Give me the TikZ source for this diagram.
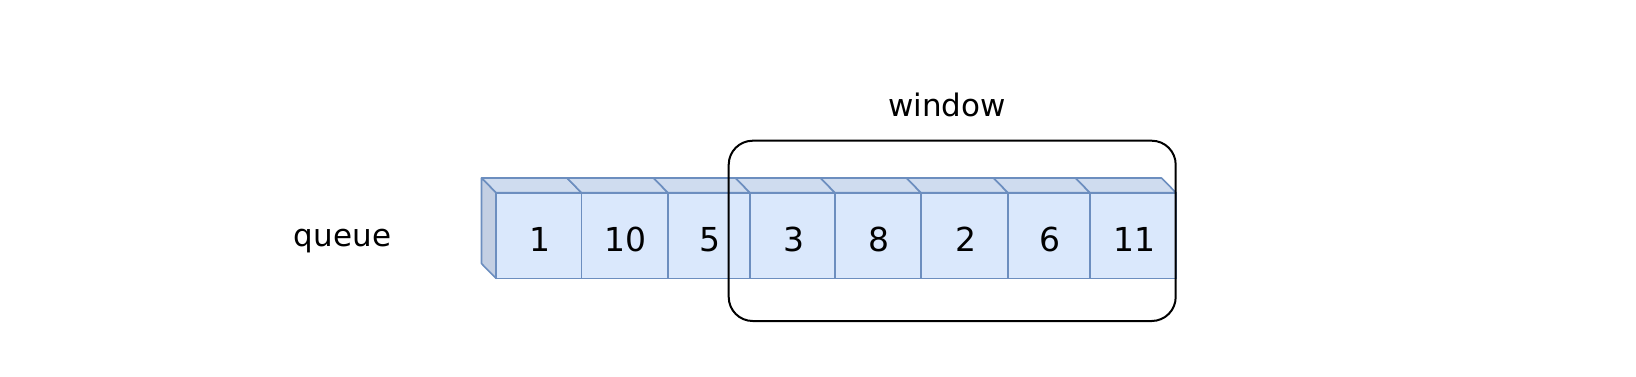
\documentclass[tikz,border=0pt]{standalone}
\usepackage{fontspec}
\setmainfont{DejaVu Sans}
\usetikzlibrary{calc}
\definecolor{cfront}{HTML}{DAE8FC}
\definecolor{ctop}{HTML}{CFDCEF}
\definecolor{cside}{HTML}{C3CFE3}
\definecolor{cedge}{HTML}{6C8EBF}
\tikzset{
  cell/.style={draw=cedge, fill=cfront, line width=1.6pt, inner sep=0pt, outer sep=0pt,
    minimum height=85.6pt, anchor=north west},
  topface/.style={draw=cedge, fill=ctop, line width=1.6pt, line join=round},
  sideface/.style={draw=cedge, fill=cside, line width=1.6pt, line join=round},
  num/.style={font=\fontsize{33}{40}\selectfont, inner sep=0pt, anchor=base},
  lbl/.style={font=\fontsize{31}{37}\selectfont, inner sep=0pt, anchor=base},
  winbox/.style={draw=black, line width=2pt, rounded corners=24pt, inner sep=0pt, outer sep=0pt,
    minimum width=447pt, minimum height=180.3pt, anchor=north west},
}
\begin{document}
\begin{tikzpicture}[x=1pt, y=-1pt]
\useasboundingbox (0,0) rectangle (1636,376);
% front faces
\foreach \l/\r/\t [count=\i] in {496/581.5/1, 581.5/668/10, 668/750/5, 750/835/3, 835/921/8, 921/1008/2, 1008/1090/6, 1090/1176/11} {
  \pgfmathsetmacro{\w}{\r-\l}
  \node[cell, minimum width=\w pt] (c\i) at (\l,192.7) {};
  \node[num] (n\i) at ($(c\i.center)+(1,16.2)$) {\t};
  \draw[topface] (c\i.north west) -- ($(c\i.north west)+(-14.5,-14.7)$) -- ($(c\i.north east)+(-14.5,-14.7)$) -- (c\i.north east) -- cycle;
}
% side face of first cube
\draw[sideface] (c1.north west) -- ($(c1.north west)+(-14.5,-14.7)$) -- ($(c1.south west)+(-14.5,-14.7)$) -- (c1.south west) -- cycle;
% window
\node[winbox] (win) at (728.7,140.7) {};
\node[lbl] (wl) at (947,116.7) {window};
\node[lbl] (ql) at (342.5,246) {queue};
\end{tikzpicture}
\end{document}
